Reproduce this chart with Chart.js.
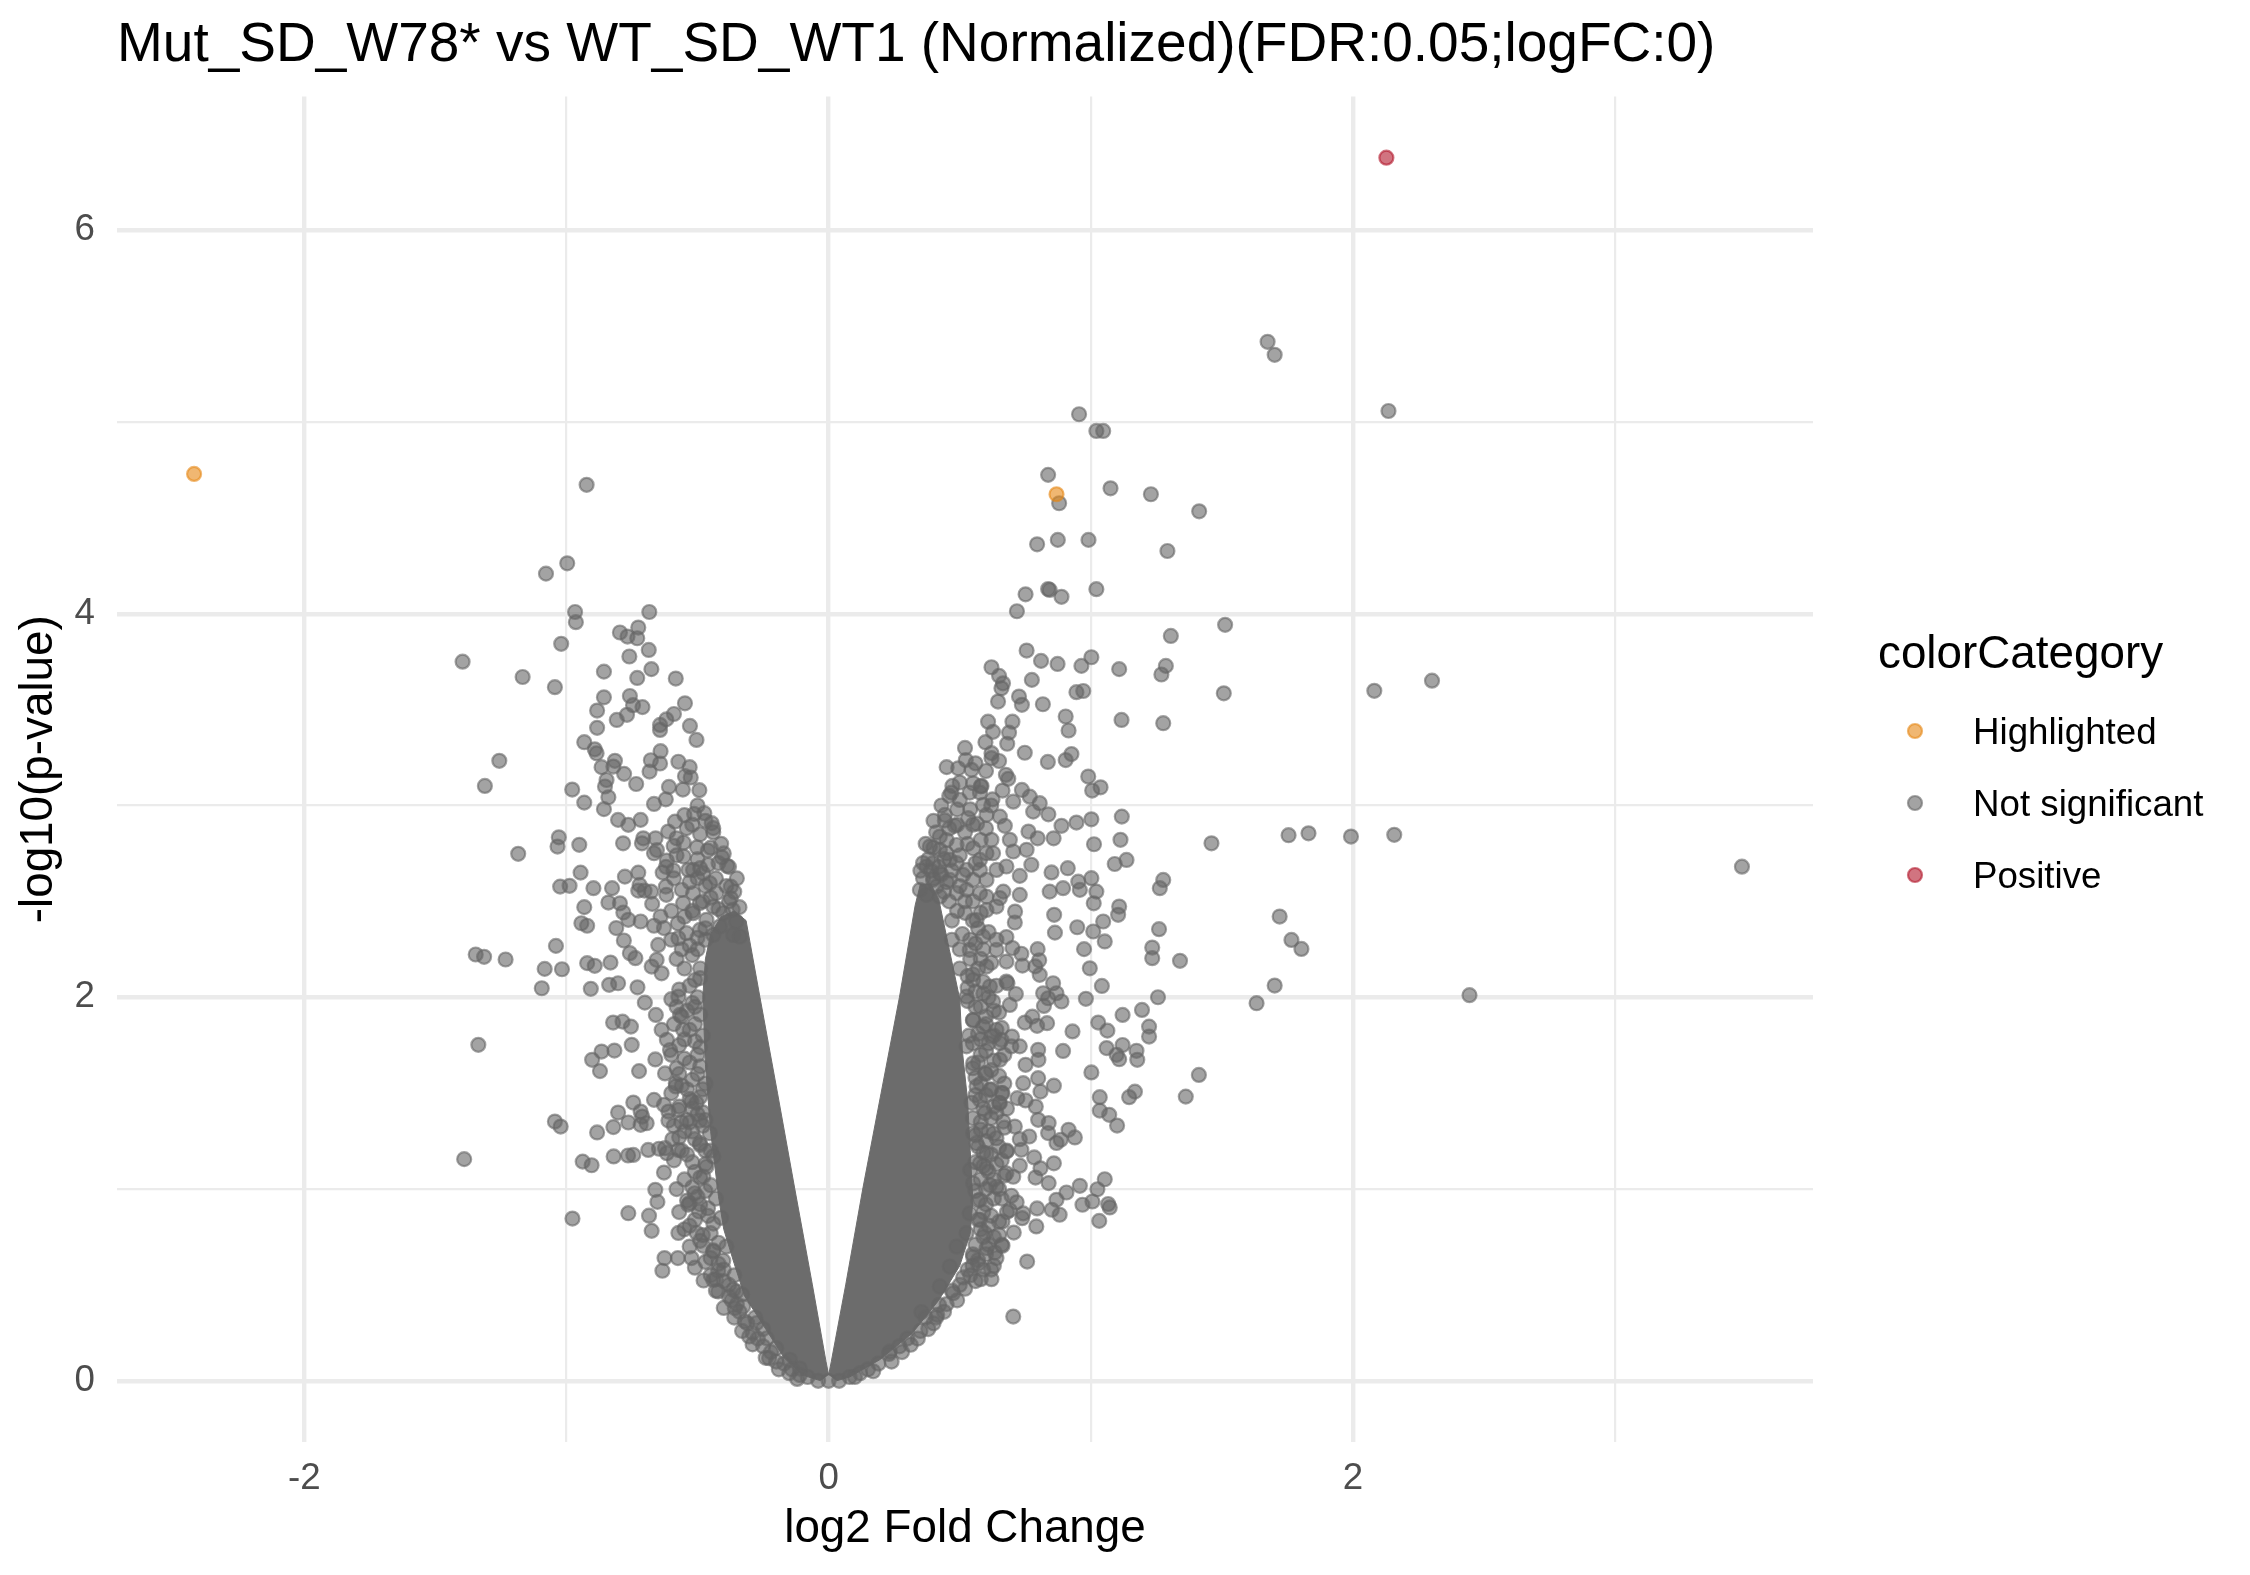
<!DOCTYPE html>
<html>
<head>
<meta charset="utf-8">
<title>Volcano plot</title>
<script src="https://cdn.jsdelivr.net/npm/chart.js@4.4.1/dist/chart.umd.min.js"></script>
<style>
    html, body { margin: 0; padding: 0; background: #ffffff; }
    canvas { display: block; }
</style>
</head>
<body>
<canvas id="volcano" width="2250" height="1575"></canvas>
<script>
// ---- data: [log2 fold change, -log10(p-value)] ----

const chartTitle = 'Mut_SD_W78* vs WT_SD_WT1 (Normalized)(FDR:0.05;logFC:0)';
const xAxisTitle = 'log2 Fold Change';
const yAxisTitle = '-log10(p-value)';
const legendTitle = 'colorCategory';
const categories = ['Highlighted', 'Not significant', 'Positive'];

const xGridValues = [-2, -1, 0, 1, 2, 3];
const xTickLabels = [-2, 0, 2];
const yGridValues = [0, 1, 2, 3, 4, 5, 6];
const yTickLabels = [0, 2, 4, 6];
const xRange = [-2.714, 3.754];
const yRange = [-0.319, 6.697];

const highlighted = [[-2.420, 4.729], [0.869, 4.623]];
const positive = [[2.127, 6.378]];

// outline of the saturated part of each arm, where the points pile up into a solid area
const denseCoreLeft = [
    [-0.03, 0.0], [-0.10, 0.03], [-0.17, 0.12], [-0.24, 0.27], [-0.32, 0.44], [-0.36, 0.61],
    [-0.40, 0.79], [-0.42, 0.96], [-0.45, 1.30], [-0.47, 1.65], [-0.48, 2.0], [-0.47, 2.2],
    [-0.45, 2.33], [-0.41, 2.42], [-0.36, 2.45], [-0.315, 2.40], [-0.262, 2.0], [-0.195, 1.5],
    [-0.129, 1.0], [-0.062, 0.5], [-0.01, 0.1], [0, 0.03]
];
const denseCoreRight = [
    [0.03, 0.0], [0.08, 0.02], [0.195, 0.11], [0.32, 0.25], [0.42, 0.42], [0.50, 0.60],
    [0.54, 0.77], [0.55, 0.94], [0.54, 1.2], [0.53, 1.46], [0.51, 1.72], [0.50, 1.99],
    [0.46, 2.25], [0.42, 2.51], [0.39, 2.59], [0.35, 2.59], [0.33, 2.48], [0.27, 2.0],
    [0.20, 1.5], [0.13, 1.0], [0.065, 0.5], [0.01, 0.1], [0, 0.03]
];

const notSigLeftUpper = [
    [-0.923,4.672],[-0.997,4.263],[-1.078,4.209],[-0.967,4.009],[-0.964,3.956],[-0.684,4.009],[-0.726,3.928],
    [-0.796,3.902],[-0.767,3.881],[-0.730,3.872],[-1.020,3.843],[-0.686,3.811],[-0.760,3.777],[-1.396,3.750],
    [-0.857,3.698],[-0.676,3.711],[-1.167,3.670],[-0.730,3.665],[-0.583,3.662],[-1.044,3.617],[-0.857,3.564],
    [-0.758,3.571],[-0.746,3.523],[-0.710,3.513],[-0.548,3.533],[-0.883,3.495],[-0.769,3.473],[-0.808,3.446],
    [-0.590,3.477],[-0.619,3.449],[-0.643,3.420],[-0.643,3.394],[-0.529,3.415],[-0.883,3.405],[-0.504,3.342],
    [-0.932,3.330],[-0.892,3.293],[-0.885,3.272],[-0.641,3.283],[-1.256,3.233],[-0.815,3.233],[-0.678,3.236],
    [-0.643,3.219],[-0.573,3.228],[-0.866,3.200],[-0.821,3.203],[-0.780,3.165],[-0.683,3.177],[-0.530,3.200],
    [-0.548,3.153],[-0.526,3.146],[-0.847,3.133],[-1.311,3.102],[-0.853,3.099],[-0.734,3.112],[-0.609,3.097],
    [-0.556,3.083],[-0.493,3.080],[-0.978,3.083],[-0.840,3.043],[-0.932,3.015],[-0.621,3.032],[-0.666,3.008],
    [-0.857,2.981],[-0.513,2.956],[-0.474,2.960],[-0.803,2.925],[-0.764,2.899],[-0.717,2.925],[-0.586,2.916],
    [-0.541,2.882],[-0.440,2.882],[-0.446,2.908],[-0.612,2.864],[-0.580,2.829],[-1.029,2.834],[-1.034,2.786],
    [-0.951,2.795],[-1.184,2.748],[-0.784,2.803],[-0.707,2.829],[-0.660,2.829],[-0.712,2.803],[-0.666,2.751],
    [-0.655,2.768],[-0.591,2.789],[-0.553,2.806],[-0.502,2.782],[-0.461,2.765],[-0.407,2.730],[-0.387,2.685],
    [-0.553,2.734],[-0.617,2.713],[-0.633,2.650],[-0.592,2.661],[-0.535,2.664],[-0.490,2.673],[-0.946,2.650],
    [-0.777,2.629],[-0.726,2.650],[-1.024,2.577],[-0.988,2.581],[-0.897,2.569],[-0.826,2.569],[-0.721,2.586],
    [-0.702,2.556],[-0.677,2.551],[-0.621,2.577],[-0.726,2.556],[-0.840,2.494],[-0.796,2.490],[-0.673,2.487],
    [-0.932,2.470],[-0.783,2.442],[-0.641,2.421],[-0.619,2.534],[-0.943,2.386],[-0.921,2.373],[-0.810,2.361],
    [-0.764,2.404],[-0.717,2.395],[-0.666,2.373],[-0.628,2.361],[-0.575,2.386],[-0.373,2.577],[-0.373,2.516],
    [-0.366,2.456],[-0.353,2.395],[-0.517,2.664],[-0.479,2.647],[-0.453,2.595],[-0.428,2.543],[-0.517,2.543],
    [-0.491,2.491],[-0.440,2.473],[-0.402,2.438],[-0.517,2.438],[-0.466,2.404],[-0.415,2.369],[-0.491,2.351],
    [-0.555,2.491],[-0.542,2.334],[-0.440,2.325],[-0.364,2.325],[-0.339,2.317],[-0.573,2.308]
];

const notSigLeftLower = [
    [-1.040,2.268],[-1.346,2.223],[-1.314,2.211],[-1.232,2.197],[-1.083,2.148],[-1.017,2.146],[-1.094,2.047],
    [-0.921,2.178],[-0.892,2.164],[-0.832,2.181],[-0.907,2.044],[-0.837,2.065],[-0.803,2.073],[-0.729,2.052],
    [-0.781,2.296],[-0.758,2.230],[-0.737,2.204],[-0.675,2.160],[-0.637,2.125],[-0.650,2.273],[-0.656,2.195],
    [-0.701,1.972],[-0.659,1.908],[-0.822,1.868],[-0.786,1.873],[-0.754,1.847],[-1.336,1.752],[-0.866,1.717],
    [-0.817,1.722],[-0.751,1.752],[-0.902,1.674],[-0.872,1.615],[-0.723,1.615],[-0.661,1.676],[-0.637,1.830],
    [-0.617,1.778],[-0.624,1.603],[-0.583,1.552],[-0.583,1.535],[-0.605,1.725],[-0.567,1.908],[-0.573,2.003],
    [-0.555,1.830],[-0.745,1.451],[-0.666,1.465],[-0.628,1.439],[-0.803,1.399],[-0.717,1.404],[-0.711,1.378],
    [-0.611,1.404],[-0.573,1.413],[-1.044,1.352],[-1.022,1.326],[-0.883,1.295],[-0.821,1.323],[-0.764,1.347],
    [-0.694,1.343],[-0.717,1.335],[-0.611,1.357],[-0.562,1.348],[-0.523,1.458],[-0.504,1.449],[-0.530,1.348],
    [-0.491,1.357],[-0.596,1.260],[-0.573,1.204],[-0.688,1.204],[-0.647,1.210],[-0.617,1.187],[-0.624,1.213],
    [-0.820,1.170],[-0.765,1.175],[-0.745,1.178],[-1.390,1.156],[-0.938,1.143],[-0.904,1.124],[-0.628,1.086],
    [-0.661,0.996],[-0.653,0.933],[-0.764,0.874],[-0.977,0.846],[-0.685,0.861],[-0.675,0.782],[-0.573,0.771],
    [-0.530,0.809],[-0.503,0.771],[-0.478,0.704],[-0.535,0.918],[-0.494,0.883],[-0.511,0.978],[-0.478,1.065],
    [-0.466,1.116],[-0.626,0.640],[-0.634,0.574],[-0.575,0.640],[-0.523,0.640],[-0.440,0.675],[-0.421,0.574],
    [-0.477,0.523],[-0.440,0.526],[-0.421,0.466],[-0.364,0.475],[-0.351,0.466],[-0.402,0.626],[-0.358,0.379],
    [-0.326,0.387],[-0.275,0.301],[-0.303,0.231],[-0.236,0.222],[-0.227,0.118],[-0.148,0.110],[-0.110,0.064],
    [-0.530,0.927],[-0.491,1.239],[-0.453,1.291],[-0.440,1.170]
];

// crowded ring just outside the solid part of the left arm
const notSigLeftEdge = [
    [-0.50,2.25],[-0.49,2.10],[-0.51,1.95],[-0.48,1.80],[-0.50,1.70],[-0.47,1.55],[-0.48,1.40],[-0.45,1.20],
    [-0.43,0.95],[-0.41,0.85],[-0.39,0.70],[-0.36,0.55],[-0.33,0.45],[-0.28,0.33],[-0.25,0.27],[-0.20,0.17],
    [-0.14,0.06],[-0.08,0.02],[-0.04,0.0],[0,0],
    [-0.47,2.30],[-0.52,2.22],[-0.49,2.15],[-0.53,2.06],[-0.50,2.00],[-0.54,1.93],[-0.51,1.86],[-0.55,1.78],
    [-0.49,1.74],[-0.53,1.66],[-0.50,1.60],[-0.54,1.52],[-0.49,1.48],[-0.52,1.42],[-0.55,1.30],[-0.48,1.33],
    [-0.51,1.26],[-0.47,1.20],[-0.52,1.14],[-0.49,1.06],[-0.45,1.02],[-0.50,0.96],[-0.46,0.90],[-0.44,0.82],
    [-0.48,0.76],[-0.42,0.72],[-0.45,0.64],[-0.40,0.58],[-0.43,0.53],[-0.38,0.50],[-0.37,0.42],[-0.34,0.36],
    [-0.31,0.30],[-0.27,0.22],[-0.22,0.15],[-0.17,0.09],[-0.11,0.03],[-0.57,1.60],[-0.58,1.95],[-0.56,1.20],
    [-0.56,2.25],
    [-0.47,2.36],[-0.50,2.31],[-0.53,2.27],[-0.58,2.20],[-0.55,2.15],[-0.51,2.09],[-0.57,2.04],[-0.60,1.99],
    [-0.52,1.97],[-0.56,1.90],[-0.49,1.91],[-0.59,1.86],[-0.53,1.83],[-0.57,1.75],[-0.51,1.77],[-0.60,1.70],
    [-0.55,1.68],[-0.49,1.64],[-0.58,1.63],[-0.52,1.57],[-0.56,1.54],[-0.60,1.50],[-0.48,1.52],[-0.53,1.47],
    [-0.57,1.43],[-0.50,1.39],[-0.54,1.36],[-0.59,1.33],[-0.47,1.36],[-0.52,1.30],[-0.57,1.27],[-0.49,1.23],
    [-0.54,1.18],[-0.59,1.15],[-0.47,1.13],[-0.51,1.09],[-0.55,1.05],[-0.58,1.00],[-0.47,0.99],[-0.52,1.01],
    [-0.54,0.94],[-0.49,0.92],[-0.57,0.88],[-0.46,0.86],[-0.51,0.84],[-0.55,0.79],[-0.45,0.77],[-0.49,0.73],
    [-0.53,0.70],[-0.44,0.68],[-0.47,0.62],[-0.51,0.59],[-0.42,0.61],[-0.45,0.55],[-0.40,0.52],[-0.43,0.47],
    [-0.38,0.44],[-0.40,0.38],[-0.35,0.40],[-0.36,0.33],[-0.32,0.31],[-0.33,0.26],[-0.29,0.25],[-0.29,0.19],
    [-0.25,0.18],[-0.24,0.12],[-0.20,0.10],[-0.19,0.06],[-0.15,0.04],[-0.12,0.01],
    [-0.34,2.47],[-0.38,2.50],[-0.42,2.46],[-0.45,2.52],[-0.39,2.58],[-0.43,2.62],[-0.47,2.58],[-0.50,2.62],
    [-0.46,2.69],[-0.42,2.70],[-0.50,2.72],[-0.53,2.60],[-0.56,2.56],[-0.59,2.62],[-0.45,2.78],[-0.41,2.80],
    [-0.49,2.85],[-0.55,2.42],[-0.60,2.45],[-0.60,2.30],
    [-0.36,2.55],[-0.35,2.62],[-0.38,2.68],[-0.40,2.75],[-0.44,2.86],[-0.47,2.92],[-0.52,2.90],[-0.55,2.95],
    [-0.50,3.00],[-0.58,2.74],[-0.62,2.68],[-0.48,2.50],[-0.52,2.45]
];

const notSigRightUpper = [
    [0.955,5.040],[1.021,4.953],[1.047,4.953],[0.837,4.724],[0.879,4.576],[1.075,4.654],[1.229,4.623],
    [1.413,4.534],[0.795,4.362],[0.874,4.385],[0.991,4.385],[1.292,4.327],[0.751,4.101],[0.837,4.129],
    [0.843,4.124],[0.888,4.088],[1.021,4.128],[0.718,4.013],[1.512,3.942],[1.305,3.884],[0.755,3.808],
    [0.810,3.754],[0.873,3.738],[0.964,3.728],[1.002,3.773],[1.108,3.711],[1.286,3.728],[1.269,3.683],
    [0.621,3.721],[0.650,3.676],[0.665,3.637],[0.659,3.611],[0.775,3.655],[0.726,3.568],[0.737,3.525],
    [0.817,3.528],[0.646,3.542],[0.945,3.591],[0.971,3.597],[1.507,3.585],[0.904,3.464],[0.915,3.391],
    [1.117,3.446],[1.276,3.429],[0.608,3.437],[0.701,3.437],[0.627,3.384],[0.688,3.380],[0.598,3.330],
    [0.681,3.322],[0.621,3.273],[0.621,3.247],[0.650,3.232],[0.748,3.275],[0.836,3.227],[0.904,3.237],
    [0.926,3.268],[0.523,3.237],[0.494,3.194],[0.545,3.186],[0.676,3.160],[0.685,3.139],[0.990,3.151],
    [1.005,3.078],[1.037,3.095],[0.472,3.102],[0.468,3.067],[0.500,3.029],[0.538,3.067],[0.551,3.116],
    [0.583,3.102],[0.577,3.067],[0.663,3.078],[0.737,3.081],[0.625,3.032],[0.704,3.020],[0.767,3.046],
    [0.805,3.012],[0.780,2.968],[0.838,2.954],[0.589,3.003],[0.443,2.951],[0.443,2.922],[0.481,2.894],
    [0.532,2.934],[0.566,2.905],[0.602,2.951],[0.653,2.942],[0.672,2.894],[0.888,2.894],[0.945,2.911],
    [1.002,2.928],[1.118,2.942],[0.762,2.864],[0.797,2.829],[0.858,2.829],[1.012,2.798],[1.113,2.821],
    [1.460,2.803],[1.754,2.845],[1.830,2.855],[1.992,2.838],[1.136,2.716],[1.091,2.695],[0.912,2.673],
    [0.850,2.651],[0.729,2.633],[1.002,2.621],[1.276,2.612],[1.263,2.569],[0.952,2.603],[0.958,2.560],
    [1.021,2.551],[0.894,2.569],[0.843,2.551],[0.729,2.534],[0.666,2.551],[0.704,2.760],[0.755,2.769],
    [0.773,2.691],[0.678,2.682],[0.691,2.821],[0.621,2.821],[0.602,2.751],[0.551,2.777],[0.424,2.769],
    [0.398,2.699],[0.424,2.647],[0.462,2.716],[0.513,2.638],[0.577,2.664],[0.602,2.612],[0.488,2.794],
    [0.411,2.577],[0.373,2.534],[0.526,2.560],[0.577,2.543],[0.386,2.786],[0.424,2.838],[0.449,2.751],
    [0.488,2.699],[0.526,2.664],[0.551,2.612],[0.462,2.612],[0.398,2.612],[0.488,2.543],[0.424,2.525],
    [0.577,2.716],[0.627,2.751],[0.640,2.664],[0.602,2.525],[0.653,2.517],[0.373,2.682],[0.348,2.560]
];

const notSigRightLower = [
    [1.720,2.421],[1.765,2.299],[1.803,2.252],[1.701,2.061],[1.632,1.969],[1.260,2.355],[1.234,2.259],
    [1.234,2.204],[1.340,2.190],[1.256,2.000],[1.195,1.934],[1.222,1.847],[1.222,1.795],[1.121,1.908],
    [1.108,2.473],[1.104,2.430],[1.011,2.490],[1.009,2.343],[1.047,2.395],[1.053,2.291],[0.948,2.365],
    [0.974,2.251],[0.996,2.151],[1.042,2.059],[0.981,1.992],[0.860,2.430],[0.863,2.337],[0.711,2.447],
    [0.710,2.390],[0.678,2.314],[0.701,2.257],[0.735,2.227],[0.739,2.165],[0.797,2.251],[0.803,2.193],
    [0.788,2.161],[0.805,2.117],[0.856,2.073],[0.869,2.021],[0.888,1.978],[0.818,2.021],[0.821,1.955],
    [0.837,1.995],[0.678,2.082],[0.714,2.017],[0.691,1.960],[0.627,1.978],[0.682,2.073],[1.028,1.868],
    [1.063,1.826],[0.930,1.822],[0.833,1.865],[0.795,1.851],[0.748,1.868],[0.777,1.899],[1.060,1.735],
    [1.121,1.751],[1.098,1.700],[1.108,1.677],[1.174,1.721],[1.177,1.674],[0.894,1.720],[1.002,1.608],
    [1.412,1.595],[1.362,1.482],[1.168,1.508],[1.146,1.479],[1.034,1.479],[1.034,1.409],[1.070,1.387],
    [1.100,1.331],[0.799,1.726],[0.800,1.674],[0.751,1.648],[0.699,1.795],[0.729,1.744],[0.653,1.761],
    [0.621,1.795],[0.799,1.578],[0.859,1.539],[0.808,1.508],[0.742,1.552],[0.663,1.500],[0.720,1.474],
    [0.751,1.462],[0.790,1.430],[0.653,1.448],[0.615,1.517],[0.799,1.361],[0.839,1.344],[0.837,1.292],
    [0.869,1.240],[0.915,1.309],[0.939,1.269],[0.885,1.257],[0.729,1.260],[0.765,1.274],[0.735,1.205],
    [0.678,1.196],[0.710,1.326],[0.640,1.265],[0.784,1.165],[0.859,1.134],[0.808,1.108],[0.729,1.122],
    [0.789,1.060],[0.839,1.031],[0.907,0.982],[0.958,1.017],[1.025,0.999],[1.053,1.051],[0.968,0.918],
    [1.006,0.935],[1.066,0.922],[1.072,0.904],[1.032,0.834],[0.869,0.944],[0.851,0.892],[0.881,0.866],
    [0.795,0.899],[0.792,0.805],[0.738,0.848],[0.742,0.873],[0.706,0.773],[0.663,0.831],[0.697,0.965],
    [0.717,0.931],[0.691,0.890],[0.650,0.761],[0.663,0.704],[0.634,0.669],[0.630,0.600],[0.621,0.530],
    [0.757,0.622],[0.551,0.646],[0.549,0.600],[0.513,0.539],[0.475,0.457],[0.421,0.396],[0.414,0.344],
    [0.704,0.335],[0.313,0.188],[0.233,0.152],[0.354,0.359],[0.596,0.770],[0.602,0.692],[0.577,0.840],
    [0.615,1.021],[0.602,1.108],[0.640,1.012],[0.678,1.082],[0.704,1.064],[0.602,1.186],[0.640,1.396],
    [0.666,1.352],[0.596,1.396],[0.596,1.604],[0.653,1.674],[0.640,1.830],[0.659,1.778],[0.697,1.744],
    [0.615,2.056],[0.602,2.160],[0.640,2.247],[0.678,2.186],[0.589,2.316],[0.564,2.403],[0.602,2.455],
    [0.640,2.473],[0.538,2.247],[0.551,2.090],[0.526,2.004],[0.551,1.882],[0.589,1.847],[0.526,1.744],
    [0.551,1.656],[0.564,1.535],[0.577,1.465],[0.551,1.291],[0.564,1.239],[0.577,1.134],[0.551,1.030],
    [0.577,0.944],[0.538,0.873],[0.526,0.770],[0.488,0.700],[0.462,0.596],[0.424,0.492]
];

// crowded ring just outside the solid part of the right arm
const notSigRightEdge = [
    [0.37,0.33],[0.30,0.22],[0.23,0.14],[0.15,0.06],[0.08,0.02],[0.04,0.0],[0.47,2.40],[0.44,2.55],[0.50,2.15],
    [0.56,0.52],[0.59,0.58],[0.55,0.66],[0.61,0.71],[0.58,0.79],[0.62,0.86],[0.60,0.92],[0.56,0.99],
    [0.63,1.05],[0.59,1.12],[0.62,1.18],[0.57,1.22],[0.61,1.30],[0.58,1.35],[0.63,1.43],[0.60,1.49],
    [0.56,1.58],[0.62,1.62],[0.58,1.70],[0.61,1.76],[0.57,1.81],[0.60,1.90],[0.56,1.95],[0.59,2.02],
    [0.55,2.12],[0.58,2.20],[0.54,2.30],[0.57,2.36],[0.52,2.44],[0.55,2.50],[0.54,1.10],[0.545,1.45],
    [0.535,1.80],[0.53,2.05],[0.57,0.63],[0.53,0.58],[0.50,0.50],[0.45,0.40],[0.40,0.30],[0.35,0.26],
    [0.27,0.18],[0.19,0.09],[0.12,0.04],[0.66,1.15],[0.67,1.55],[0.65,1.92],[0.66,0.95],[0.68,1.42],[0.64,2.30],
    [0.54,0.55],[0.58,0.53],[0.62,0.58],[0.57,0.61],[0.60,0.66],[0.64,0.64],[0.56,0.71],[0.63,0.75],
    [0.66,0.71],[0.59,0.75],[0.57,0.84],[0.61,0.81],[0.65,0.83],[0.68,0.88],[0.59,0.88],[0.63,0.95],
    [0.57,0.94],[0.60,1.00],[0.65,1.00],[0.67,1.07],[0.58,1.05],[0.61,1.09],[0.64,1.13],[0.56,1.14],
    [0.59,1.19],[0.65,1.22],[0.68,1.20],[0.60,1.25],[0.56,1.28],[0.63,1.29],[0.58,1.31],[0.67,1.32],
    [0.62,1.37],[0.55,1.37],[0.59,1.42],[0.65,1.45],[0.56,1.49],[0.62,1.52],[0.66,1.50],[0.58,1.55],
    [0.60,1.60],[0.65,1.59],[0.55,1.63],[0.63,1.67],[0.57,1.66],[0.67,1.70],[0.60,1.72],[0.55,1.76],
    [0.63,1.80],[0.58,1.78],[0.66,1.84],[0.60,1.86],[0.55,1.88],[0.63,1.93],[0.58,1.95],[0.53,1.98],
    [0.61,2.00],[0.56,2.03],[0.64,2.06],[0.59,2.08],[0.53,2.11],[0.57,2.15],[0.62,2.18],[0.54,2.20],
    [0.59,2.25],[0.50,2.25],[0.56,2.28],[0.61,2.34],[0.51,2.33],[0.55,2.40],[0.49,2.45],[0.58,2.44],
    [0.52,2.50],[0.46,2.50],[0.47,2.30],[0.40,2.62],[0.45,2.60],[0.50,2.58],[0.36,2.62],[0.42,2.68],
    [0.47,2.66],[0.38,2.72],[0.44,2.72],[0.50,2.74],[0.41,2.86],[0.46,2.88],[0.52,2.86],[0.49,2.98],
    [0.54,2.98],[0.47,0.47],[0.44,0.36],[0.41,0.33],[0.38,0.27],[0.34,0.22],[0.28,0.15],[0.24,0.10],
    [0.17,0.05],[0.10,0.02],[0.52,0.48],[0.49,0.42],
    [0.37,2.80],[0.40,2.92],[0.43,3.00],[0.46,3.05],[0.50,3.12],[0.45,3.20],[0.52,3.30],[0.40,2.78],
    [0.36,2.70],[0.39,2.66],[0.43,2.64],[0.35,2.66],[0.45,2.82],[0.49,2.90],[0.53,2.80],[0.56,2.70],
    [0.58,2.82],[0.55,2.90],[0.60,2.88],[0.62,3.00],[0.58,3.10],[0.60,3.18],[0.56,3.22]
];

const notSigFar = [
    [1.674,5.418],[1.701,5.350],[2.135,5.057],[2.081,3.598],[2.301,3.651],[2.157,2.847],[3.483,2.681],[2.444,2.011]
];

// ---- styling ----

const fontFamily = "'Liberation Sans', Arial, Helvetica, sans-serif";
const gridColor = '#ebebeb';
const coreGray = '#6c6c6c';
const categoryColors = {
    'Highlighted': 'rgba(230, 135, 20, 0.6)',
    'Not significant': 'rgba(102, 102, 102, 0.6)',
    'Positive': 'rgba(178, 24, 43, 0.6)',
};

/** @param {number[][]} pairs */
const toPoints = (pairs) => pairs.map(([x, y]) => ({x: x, y: y}));

/** @param {string} label
 * @param {number[][]} pairs
 * @param {number} order */
const pointDataset = (label, pairs, order) => ({
    label: label,
    data: toPoints(pairs),
    backgroundColor: categoryColors[label],
    borderColor: categoryColors[label],
    borderWidth: 2.2,
    pointRadius: 7,
    order: order,
});

/** @param {number[][]} outline */
const coreDataset = (outline) => ({
    label: 'Not significant',
    data: toPoints(outline),
    showLine: true,
    fill: 'shape',
    tension: 0,
    backgroundColor: coreGray,
    borderColor: coreGray,
    borderWidth: 1,
    pointRadius: 0,
    order: 3,
});

/** ggplot style legend on the right, built from the point datasets */
const categoryLegend = {
    id: 'categoryLegend',
    afterDraw(chart, args, opts) {
        const ctx = chart.ctx;
        ctx.save();
        ctx.textAlign = 'left';
        ctx.textBaseline = 'alphabetic';
        ctx.fillStyle = '#000000';
        ctx.font = `45.8px ${fontFamily}`;
        ctx.fillText(opts.title, opts.titleX, opts.titleBaseline);

        ctx.font = `36.7px ${fontFamily}`;
        opts.labels.forEach((label, i) => {
            const dataset = chart.data.datasets.find(d => d.label === label && d.pointRadius > 0);
            const cy = opts.firstRow + i * opts.rowGap;
            ctx.beginPath();
            ctx.arc(opts.dotX, cy, dataset.pointRadius, 0, Math.PI * 2);
            ctx.fillStyle = dataset.backgroundColor;
            ctx.fill();
            ctx.lineWidth = dataset.borderWidth;
            ctx.strokeStyle = dataset.borderColor;
            ctx.stroke();
            ctx.fillStyle = '#000000';
            ctx.fillText(label, opts.textX, cy + 13.3);
        });
        ctx.restore();
    }
};

const notSignificant = [].concat(
    notSigLeftUpper, notSigLeftLower, notSigLeftEdge,
    notSigRightUpper, notSigRightLower, notSigRightEdge, notSigFar
);

new Chart(document.getElementById('volcano'), {
    type: 'scatter',
    data: {
        datasets: [
            pointDataset('Positive', positive, 0),
            pointDataset('Highlighted', highlighted, 0),
            pointDataset('Not significant', notSignificant, 1),
            coreDataset(denseCoreLeft),
            coreDataset(denseCoreRight),
        ],
    },
    options: {
        responsive: false,
        animation: false,
        devicePixelRatio: 1,
        events: [],
        layout: {
            padding: {left: 0, right: 437, top: 0, bottom: 0},
        },
        plugins: {
            legend: {display: false},
            tooltip: {enabled: false},
            title: {
                display: true,
                text: chartTitle,
                align: 'start',
                fullSize: false,
                color: '#000000',
                font: {family: fontFamily, size: 55, weight: 'normal'},
                padding: {top: 13, bottom: 17.5},
            },
            categoryLegend: {
                title: legendTitle,
                labels: categories,
                titleX: 1878,
                titleBaseline: 668,
                dotX: 1915,
                textX: 1973,
                firstRow: 731,
                rowGap: 72,
            },
        },
        scales: {
            x: {
                type: 'linear',
                min: xRange[0],
                max: xRange[1],
                afterBuildTicks: (scale) => { scale.ticks = xGridValues.map(v => ({value: v})); },
                afterFit: (scale) => { scale.height = 133; },
                border: {display: false},
                grid: {
                    color: gridColor,
                    drawTicks: false,
                    lineWidth: (c) => xTickLabels.includes(c.tick.value) ? 4.4 : 2.2,
                },
                ticks: {
                    padding: 15,
                    color: '#4d4d4d',
                    maxRotation: 0,
                    autoSkip: false,
                    font: {family: fontFamily, size: 36.7},
                    callback: (v) => xTickLabels.includes(v) ? String(v) : '',
                },
                title: {
                    display: true,
                    text: xAxisTitle,
                    color: '#000000',
                    font: {family: fontFamily, size: 45.8},
                    padding: {top: 0, bottom: 18.5},
                },
            },
            y: {
                type: 'linear',
                min: yRange[0],
                max: yRange[1],
                afterBuildTicks: (scale) => { scale.ticks = yGridValues.map(v => ({value: v})); },
                afterFit: (scale) => { scale.width = 117; },
                border: {display: false},
                grid: {
                    color: gridColor,
                    drawTicks: false,
                    lineWidth: (c) => yTickLabels.includes(c.tick.value) ? 4.4 : 2.2,
                },
                ticks: {
                    padding: 22,
                    color: '#4d4d4d',
                    autoSkip: false,
                    font: {family: fontFamily, size: 36.7},
                    callback: (v) => yTickLabels.includes(v) ? String(v) : '',
                },
                title: {
                    display: true,
                    text: yAxisTitle,
                    color: '#000000',
                    font: {family: fontFamily, size: 45.8},
                    padding: {top: 12, bottom: 0},
                },
            },
        },
    },
    plugins: [categoryLegend],
});
</script>
</body>
</html>
